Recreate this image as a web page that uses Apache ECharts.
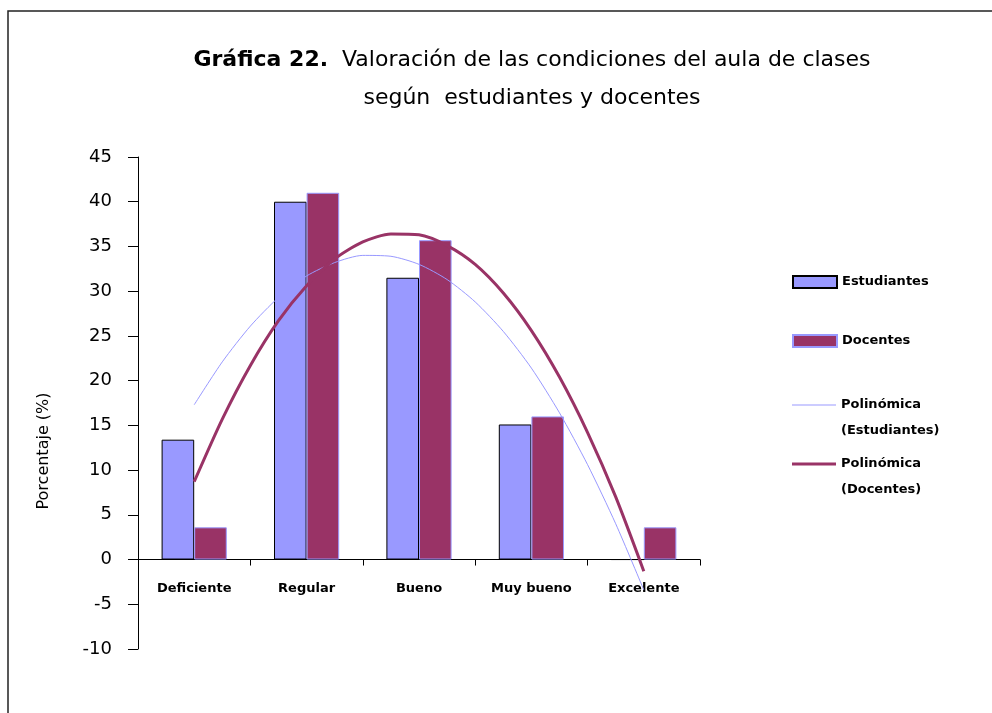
<!DOCTYPE html>
<html>
<head>
<meta charset="utf-8">
<title>Gráfica 22</title>
<script src="https://cdn.jsdelivr.net/npm/echarts@6/dist/echarts.min.js"></script>
<style>
  html, body { margin: 0; padding: 0; background: #fff; }
  #chart { width: 992px; height: 713px; }
</style>
</head>
<body>
<div id="chart"></div>
<script>
  // categorías del eje X
  const categories = ['Deficiente', 'Regular', 'Bueno', 'Muy bueno', 'Excelente']
  // porcentajes (%)
  const estudiantes = [13.4, 40, 31.5, 15.1, 0]
  const docentes = [3.6, 41, 35.7, 16, 3.6]
  // tendencia polinómica, leída cada cuarto de categoría (1 = Deficiente ... 5 = Excelente)
  const trendPos = [1, 1.25, 1.5, 1.75, 2, 2.25, 2.5, 2.75, 3, 3.25, 3.5, 3.75, 4, 4.25, 4.5, 4.75, 5]
  const trendEstudiantes = [17.3, 22.1, 26.1, 29.3, 31.7, 33.2, 34.0, 33.9, 33.0, 31.3, 28.8, 25.5, 21.4, 16.4, 10.6, 4.0, -3.4]
  const trendDocentes = [8.7, 15.7, 21.7, 26.7, 30.6, 33.6, 35.5, 36.4, 36.3, 35.1, 33.0, 29.8, 25.6, 20.4, 14.2, 7.0, -1.3]
  // eje Y
  const yMin = -10
  const yMax = 45
  const yStep = 5

  const FONT = 'DejaVu Sans'
  const AZUL = '#9999FF'
  const GRANATE = '#993366'

  const chart = echarts.init(document.getElementById('chart'))

  const zip = (xs, ys) => xs.map((x, i) => [x, ys[i]])
  const legendText = { fontFamily: FONT, fontSize: 13, fontWeight: 'bold', color: '#000' }
  // primera línea vacía para que el icono quede a la altura de "Polinómica"
  const twoLines = name => '\n' + name.replace(' (', '\n(')

  chart.setOption({
    backgroundColor: '#fff',
    animation: false,
    graphic: [{
      // marco del gráfico
      type: 'rect',
      shape: { x: 8, y: 11, width: 1000, height: 720 },
      style: { fill: 'none', stroke: '#222', lineWidth: 1.5 },
      silent: true
    }],
    title: {
      text: '{b|Gráfica 22.}  Valoración de las condiciones del aula de clases\nsegún  estudiantes y docentes',
      left: 527,
      top: 36,
      textAlign: 'center',
      textStyle: {
        fontFamily: FONT,
        fontSize: 22,
        fontWeight: 'normal',
        color: '#000',
        lineHeight: 38,
        rich: {
          b: { fontFamily: FONT, fontSize: 22, fontWeight: 'bold', color: '#000', lineHeight: 38 }
        }
      }
    },
    legend: [{
      orient: 'vertical',
      left: 792,
      top: 275,
      padding: 0,
      itemWidth: 44,
      itemHeight: 12,
      itemGap: 45,
      data: [{ name: 'Estudiantes', icon: 'rect' }, { name: 'Docentes', icon: 'rect' }],
      textStyle: Object.assign({ lineHeight: 14 }, legendText)
    }, {
      left: 792,
      top: 366,
      padding: 0,
      itemWidth: 44,
      itemHeight: 1,
      data: [{ name: 'Polinómica (Estudiantes)', icon: 'rect' }],
      formatter: twoLines,
      textStyle: Object.assign({ lineHeight: 26 }, legendText)
    }, {
      left: 792,
      top: 425,
      padding: 0,
      itemWidth: 44,
      itemHeight: 3,
      data: [{ name: 'Polinómica (Docentes)', icon: 'rect' }],
      formatter: twoLines,
      textStyle: Object.assign({ lineHeight: 26 }, legendText)
    }],
    grid: {
      left: 138,
      right: 292,
      top: 157,
      bottom: 64
    },
    xAxis: [{
      type: 'category',
      data: categories,
      axisLine: { onZero: true, lineStyle: { color: '#000', width: 1 } },
      axisTick: { show: true, length: 6, lineStyle: { color: '#000' } },
      axisLabel: { interval: 0, margin: -67, fontFamily: FONT, fontSize: 13, fontWeight: 'bold', color: '#000' },
      splitLine: { show: false }
    }, {
      // eje auxiliar para las líneas de tendencia
      type: 'value',
      min: 0.5,
      max: 5.5,
      show: false
    }],
    yAxis: {
      type: 'value',
      min: yMin,
      max: yMax,
      interval: yStep,
      name: 'Porcentaje (%)',
      nameLocation: 'middle',
      nameGap: 86,
      nameTextStyle: { fontFamily: FONT, fontSize: 16, color: '#000', padding: [0, 96, 0, 0] },
      axisLine: { show: true, lineStyle: { color: '#000', width: 1 } },
      axisTick: { show: true, length: 10, lineStyle: { color: '#000' } },
      axisLabel: { margin: 26, fontFamily: FONT, fontSize: 18, color: '#000' },
      splitLine: { show: false }
    },
    series: [{
      name: 'Estudiantes',
      type: 'bar',
      data: estudiantes,
      barGap: '0%',
      barCategoryGap: '42%',
      itemStyle: { color: AZUL, borderColor: '#000', borderWidth: 1 }
    }, {
      name: 'Docentes',
      type: 'bar',
      data: docentes,
      itemStyle: { color: GRANATE, borderColor: AZUL, borderWidth: 1 }
    }, {
      name: 'Polinómica (Estudiantes)',
      type: 'line',
      xAxisIndex: 1,
      data: zip(trendPos, trendEstudiantes),
      smooth: 0.25,
      symbol: 'none',
      lineStyle: { color: AZUL, width: 1 },
      itemStyle: { color: AZUL },
      z: 3
    }, {
      name: 'Polinómica (Docentes)',
      type: 'line',
      xAxisIndex: 1,
      data: zip(trendPos, trendDocentes),
      smooth: 0.25,
      symbol: 'none',
      lineStyle: { color: GRANATE, width: 3 },
      itemStyle: { color: GRANATE },
      z: 4
    }]
  })
</script>
</body>
</html>
